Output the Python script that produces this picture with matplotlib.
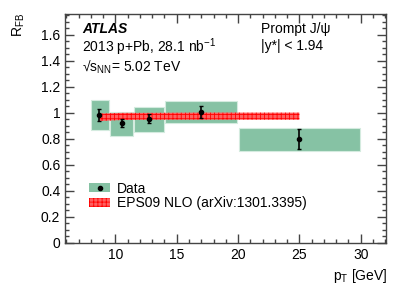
import matplotlib
matplotlib.use("Agg")
import matplotlib.pyplot as plt
from matplotlib.patches import Patch
from matplotlib.lines import Line2D
from matplotlib.ticker import MultipleLocator

plt.rcParams['font.family'] = ['Liberation Sans', 'DejaVu Sans']
plt.rcParams['mathtext.fontset'] = 'custom'
plt.rcParams['mathtext.rm'] = 'Liberation Sans'
plt.rcParams['mathtext.it'] = 'Liberation Sans:italic'
plt.rcParams['mathtext.default'] = 'regular'
plt.rcParams['hatch.linewidth'] = 0.6

# data points (prompt J/psi R_FB)
bin_lo = [8.0, 9.5, 11.5, 14.0, 20.0]
bin_hi = [9.5, 11.5, 14.0, 20.0, 30.0]
pt = [8.7, 10.5, 12.7, 17.0, 25.0]
rfb = [0.985, 0.92, 0.955, 1.005, 0.80]
stat = [0.045, 0.03, 0.035, 0.045, 0.075]
syst_lo = [0.865, 0.825, 0.856, 0.92, 0.708]
syst_hi = [1.10, 1.008, 1.048, 1.092, 0.887]

# EPS09 NLO band
th_x = [8.7, 10.5, 12.7, 17.0, 25.0]
th_lo = [0.937, 0.945, 0.948, 0.948, 0.948]
th_hi = [0.995, 1.0, 1.0, 1.002, 1.002]

green = '#86c2a4'

fig = plt.figure(figsize=(4.07, 2.92), dpi=100)
ax = fig.add_axes([0.160, 0.168, 0.788, 0.784])

# systematic boxes
for lo, hi, blo, bhi in zip(bin_lo, bin_hi, syst_lo, syst_hi):
    ax.bar(lo + 0.05, bhi - blo, width=hi - lo - 0.1, bottom=blo, align='edge',
           color=green, edgecolor='#d4ebdf', linewidth=0.8, zorder=1)

# theory band
ax.fill_between(th_x, th_lo, th_hi, facecolor='#ff6060', edgecolor='red',
                hatch='++++', linewidth=0, zorder=2)

# data with stat errors
ax.errorbar(pt, rfb, yerr=stat, fmt='o', color='black', ms=3, elinewidth=1.2,
            capsize=1.5, zorder=3)

ax.set_xlim(5.9, 32.05)
ax.set_ylim(0, 1.76)
ax.xaxis.set_major_locator(MultipleLocator(5))
ax.xaxis.set_minor_locator(MultipleLocator(1))
ax.yaxis.set_major_locator(MultipleLocator(0.2))
ax.yaxis.set_minor_locator(MultipleLocator(0.05))
ax.yaxis.set_major_formatter(plt.FuncFormatter(lambda v, p: f"{v:g}"))
ax.tick_params(which='both', direction='in', top=True, right=True, labelsize=10,
               color='#444444')
ax.tick_params(which='major', length=6.5, width=1)
ax.tick_params(which='minor', length=3.2, width=1)
for s in ax.spines.values():
    s.set_color('#444444')
    s.set_linewidth(1)

# labels
fig.text(0.047, 0.955, r'$R_{FB}$', rotation=90, ha='center', va='top', fontsize=10)
fig.text(0.951, 0.055, r'$p_{T}$ [GeV]', ha='right', va='center', fontsize=10)

ax.text(0.053, 0.934, 'ATLAS', transform=ax.transAxes, fontsize=10,
        fontweight='bold', style='italic', va='center')
ax.text(0.053, 0.856, r'2013 p+Pb, 28.1 nb$^{-1}$', transform=ax.transAxes,
        fontsize=10, va='center')
ax.text(0.053, 0.768, r'√$s_{NN}$= 5.02 TeV', transform=ax.transAxes,
        fontsize=10, va='center')
ax.text(0.61, 0.934, 'Prompt J/ψ', transform=ax.transAxes, fontsize=10, va='center')
ax.text(0.61, 0.862, '|y*| < 1.94', transform=ax.transAxes, fontsize=10, va='center')

# legend
h_data = (Patch(facecolor=green, edgecolor='none'),
          Line2D([], [], marker='o', color='black', ms=3, ls='none'))
h_th = Patch(facecolor='#ff6060', edgecolor='red', hatch='++++', linewidth=0)
ax.legend([h_data, h_th], ['Data', 'EPS09 NLO (arXiv:1301.3395)'],
          loc='center left', bbox_to_anchor=(0.075, 0.205), frameon=False,
          fontsize=10, handlelength=1.5, handleheight=0.6, handletextpad=0.5,
          labelspacing=0.05, borderpad=0, borderaxespad=0)

fig.savefig('out.png', dpi=100)
